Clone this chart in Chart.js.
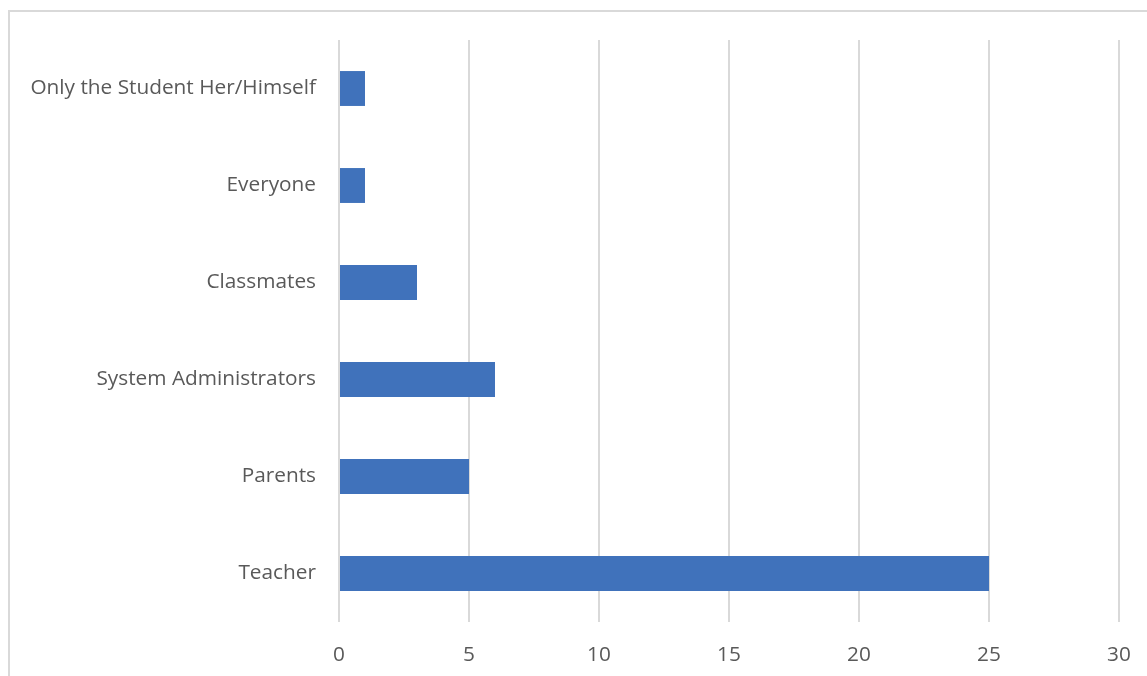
<!DOCTYPE html>
<html>
<head>
<meta charset="utf-8">
<script src="https://cdn.jsdelivr.net/npm/chart.js@4/dist/chart.umd.min.js"></script>
<style>
  body { margin: 0; background: #fff; overflow: hidden; }
  #frame {
    position: absolute; left: 8px; top: 10px;
    width: 1160px; height: 690px;
    border: 2px solid #d9d9d9;
  }
  #chart { position: absolute; left: 0; top: 0; }
</style>
</head>
<body>
<div id="frame"></div>
<canvas id="chart" width="1147" height="676"></canvas>
<script>
// who can see the results
const categories = [
    "Only the Student Her/Himself",
    "Everyone",
    "Classmates",
    "System Administrators",
    "Parents",
    "Teacher"
];
const counts = [1, 1, 3, 6, 5, 25];
const xTicks = [0, 5, 10, 15, 20, 25, 30];

const labelFont = { family: "'Open Sans', sans-serif", size: 20.8 };

new Chart(document.getElementById("chart"), {
    type: "bar",
    data: {
        labels: categories,
        datasets: [{
            data: counts,
            backgroundColor: "#4072bb",
            barPercentage: 0.36,
            categoryPercentage: 1
        }]
    },
    options: {
        indexAxis: "y",
        responsive: false,
        animation: false,
        layout: { padding: { top: 40, right: 28, left: 0, bottom: 0 } },
        plugins: { legend: { display: false }, tooltip: { enabled: false } },
        scales: {
            x: {
                min: 0,
                max: 30,
                afterBuildTicks: function (axis) {
                    axis.ticks = xTicks.map(function (v) { return { value: v }; });
                },
                afterFit: function (axis) {
                    axis.height = 54;
                    // keep the end labels from pushing the plot inwards
                    axis.paddingLeft = 0;
                    axis.paddingRight = 0;
                },
                grid: { color: "#d9d9d9", lineWidth: 2, drawTicks: false },
                border: { display: false },
                ticks: { color: "#595959", font: labelFont, padding: 21 }
            },
            y: {
                afterFit: function (axis) { axis.width = 339; },
                grid: { display: false, drawTicks: false },
                border: { display: false },
                ticks: { color: "#595959", font: labelFont, padding: 23 }
            }
        }
    }
});
</script>
</body>
</html>
